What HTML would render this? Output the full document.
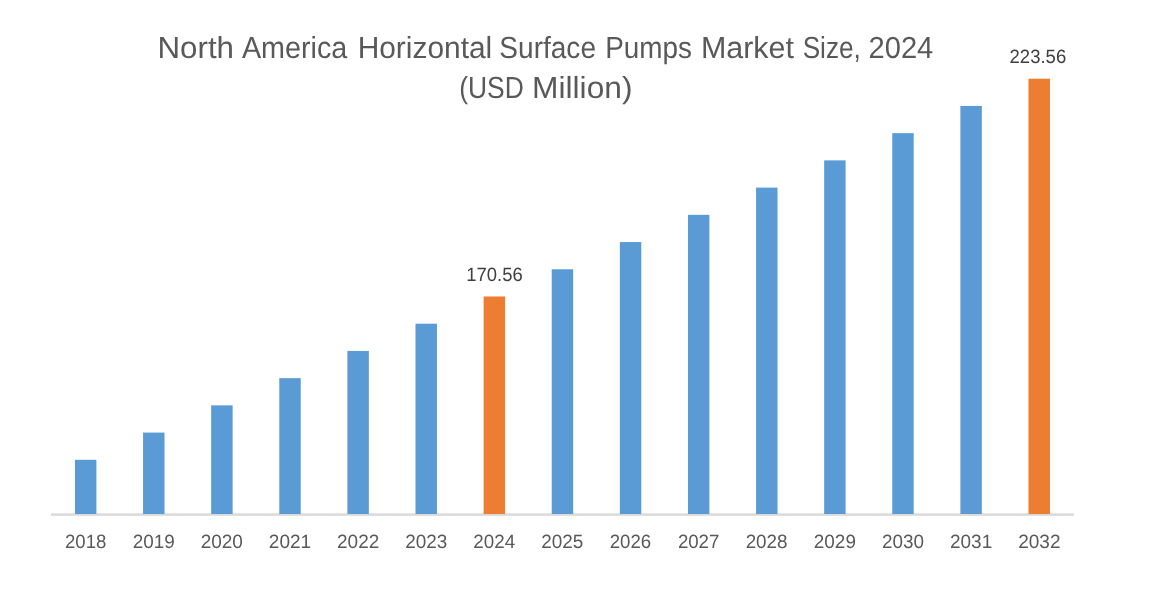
<!DOCTYPE html>
<html><head><meta charset="utf-8"><style>
html,body{margin:0;padding:0;background:#fff;width:1156px;height:600px;overflow:hidden}
.wrap{width:1156px;height:600px;will-change:transform}
svg{display:block}
text{font-family:"Liberation Sans",sans-serif;text-rendering:geometricPrecision}
.t{fill:#595959;font-size:30.5px}
.ax{fill:#595959;font-size:19.2px}
.dl{fill:#404040;font-size:19.2px}
</style></head><body><div class="wrap">
<svg width="1156" height="600" viewBox="0 0 1156 600">
<rect x="51" y="513.4" width="1023" height="2.4" fill="#D9D9D9"/>
<rect x="74.95" y="459.80" width="21.45" height="54.20" fill="#5B9BD5"/>
<rect x="143.06" y="432.58" width="21.45" height="81.42" fill="#5B9BD5"/>
<rect x="211.17" y="405.36" width="21.45" height="108.64" fill="#5B9BD5"/>
<rect x="279.28" y="378.14" width="21.45" height="135.86" fill="#5B9BD5"/>
<rect x="347.39" y="350.92" width="21.45" height="163.08" fill="#5B9BD5"/>
<rect x="415.50" y="323.70" width="21.45" height="190.30" fill="#5B9BD5"/>
<rect x="483.61" y="296.48" width="21.45" height="217.52" fill="#ED7D31"/>
<rect x="551.72" y="269.26" width="21.45" height="244.74" fill="#5B9BD5"/>
<rect x="619.83" y="242.04" width="21.45" height="271.96" fill="#5B9BD5"/>
<rect x="687.94" y="214.82" width="21.45" height="299.18" fill="#5B9BD5"/>
<rect x="756.05" y="187.60" width="21.45" height="326.40" fill="#5B9BD5"/>
<rect x="824.16" y="160.38" width="21.45" height="353.62" fill="#5B9BD5"/>
<rect x="892.27" y="133.16" width="21.45" height="380.84" fill="#5B9BD5"/>
<rect x="960.38" y="105.94" width="21.45" height="408.06" fill="#5B9BD5"/>
<rect x="1028.49" y="78.72" width="21.45" height="435.28" fill="#ED7D31"/>
<text class="t" x="157.50" y="57.75" textLength="76.50" lengthAdjust="spacingAndGlyphs">North</text>
<text class="t" x="241.90" y="57.75" textLength="105.39" lengthAdjust="spacingAndGlyphs">America</text>
<text class="t" x="357.64" y="57.75" textLength="134.62" lengthAdjust="spacingAndGlyphs">Horizontal</text>
<text class="t" x="499.34" y="57.75" textLength="96.66" lengthAdjust="spacingAndGlyphs">Surface</text>
<text class="t" x="605.16" y="57.75" textLength="86.79" lengthAdjust="spacingAndGlyphs">Pumps</text>
<text class="t" x="700.88" y="57.75" textLength="93.05" lengthAdjust="spacingAndGlyphs">Market</text>
<text class="t" x="802.64" y="57.75" textLength="58.19" lengthAdjust="spacingAndGlyphs">Size,</text>
<text class="t" x="868.53" y="57.75" textLength="64.73" lengthAdjust="spacingAndGlyphs">2024</text>
<text class="t" x="459.22" y="98.00" textLength="64.60" lengthAdjust="spacingAndGlyphs">(USD</text>
<text class="t" x="532.13" y="98.00" textLength="100.32" lengthAdjust="spacingAndGlyphs">Million)</text>
<text class="dl" x="466.27" y="280.90" textLength="56.46" lengthAdjust="spacingAndGlyphs">170.56</text>
<text class="dl" x="1009.56" y="62.55" textLength="56.64" lengthAdjust="spacingAndGlyphs">223.56</text>
<text class="ax" x="65.04" y="548.00" textLength="41.33" lengthAdjust="spacingAndGlyphs">2018</text>
<text class="ax" x="132.69" y="548.00" textLength="42.08" lengthAdjust="spacingAndGlyphs">2019</text>
<text class="ax" x="200.67" y="548.00" textLength="42.24" lengthAdjust="spacingAndGlyphs">2020</text>
<text class="ax" x="268.80" y="548.00" textLength="42.33" lengthAdjust="spacingAndGlyphs">2021</text>
<text class="ax" x="337.02" y="548.00" textLength="42.29" lengthAdjust="spacingAndGlyphs">2022</text>
<text class="ax" x="405.25" y="548.00" textLength="42.15" lengthAdjust="spacingAndGlyphs">2023</text>
<text class="ax" x="473.31" y="548.00" textLength="41.83" lengthAdjust="spacingAndGlyphs">2024</text>
<text class="ax" x="541.26" y="548.00" textLength="42.16" lengthAdjust="spacingAndGlyphs">2025</text>
<text class="ax" x="609.75" y="548.00" textLength="41.44" lengthAdjust="spacingAndGlyphs">2026</text>
<text class="ax" x="677.89" y="548.00" textLength="41.50" lengthAdjust="spacingAndGlyphs">2027</text>
<text class="ax" x="745.63" y="548.00" textLength="41.95" lengthAdjust="spacingAndGlyphs">2028</text>
<text class="ax" x="813.82" y="548.00" textLength="42.10" lengthAdjust="spacingAndGlyphs">2029</text>
<text class="ax" x="881.96" y="548.00" textLength="42.01" lengthAdjust="spacingAndGlyphs">2030</text>
<text class="ax" x="949.98" y="548.00" textLength="42.27" lengthAdjust="spacingAndGlyphs">2031</text>
<text class="ax" x="1018.15" y="548.00" textLength="42.34" lengthAdjust="spacingAndGlyphs">2032</text>
</svg></div>
</body></html>
